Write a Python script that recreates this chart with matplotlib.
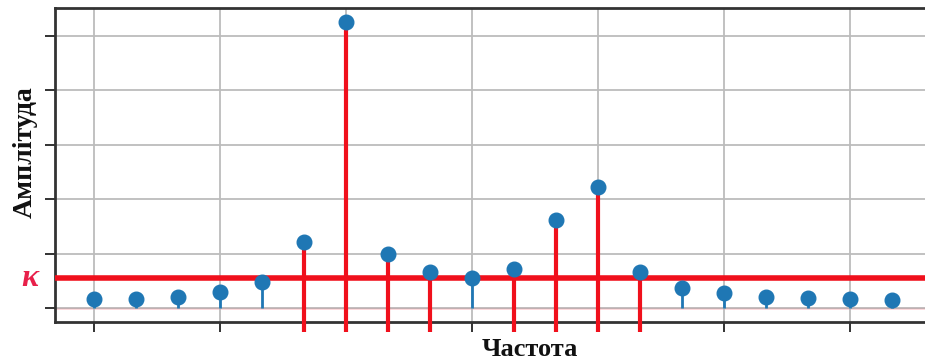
import matplotlib
matplotlib.use("Agg")
import matplotlib.pyplot as plt
import numpy as np

# Spectrum samples (frequency index -> amplitude)
freq = np.arange(20)
amplitude = [0.17, 0.17, 0.20, 0.29, 0.48, 1.21, 5.26, 0.99, 0.66, 0.55,
             0.72, 1.62, 2.23, 0.66, 0.37, 0.28, 0.20, 0.18, 0.17, 0.15]
kappa = 0.56          # detection threshold
red_stem_floor = -0.45  # selected stems are extended below the axis

xticks = [0, 3, 6, 9, 12, 15, 18]
yticks = [0, 1, 2, 3, 4, 5]

fig = plt.figure(figsize=(9.25, 3.62), dpi=100)
ax = fig.add_axes([55 / 925, 40 / 362, 1 - 55 / 925, 314 / 362])

ax.set_xlim(-0.93, 19.79)
ax.set_ylim(-0.257, 5.515)
ax.set_xticks(xticks)
ax.set_yticks(yticks)
ax.set_xticklabels([])
ax.set_yticklabels([])
ax.tick_params(direction="out", length=7, width=1.3, color="#222222")
ax.grid(True, color="#bcbcbc", linewidth=1.3, zorder=0)

for side in ("left", "bottom", "top"):
    ax.spines[side].set_linewidth(2.0)
    ax.spines[side].set_color("#333333")
ax.spines["right"].set_visible(False)

# baseline of the stems
ax.axhline(0, color="#f04050", linewidth=1.0, zorder=1)

amp = np.asarray(amplitude)
above = amp > kappa

# stems below the threshold: thin blue from the baseline
ax.vlines(freq[~above], 0, amp[~above], color="#1f77b4", linewidth=2.0, zorder=2)
# stems above the threshold: thick red, running past the bottom spine
ax.vlines(freq[above], red_stem_floor, amp[above], color="#f0101c",
          linewidth=3.0, zorder=3, clip_on=False)

# threshold line
ax.axhline(kappa, color="#f0101c", linewidth=4.0, zorder=4)

# stem heads
ax.plot(freq, amp, "o", color="#1f77b4", markersize=10.5, zorder=5, clip_on=False)

fig.text(25 / 925, 1 - 152 / 362, "Амплітуда", rotation=90, ha="center", va="center",
         family="Liberation Serif", fontweight="bold", fontsize=20, color="#111111")
fig.text(530 / 925, 1 - 350 / 362, "Частота", ha="center", va="center",
         family="Liberation Serif", fontweight="bold", fontsize=19, color="#111111")
fig.text(30 / 925, 1 - 278 / 362, "κ", ha="center", va="center",
         family="Liberation Serif", fontstyle="italic", fontweight="bold",
         fontsize=23, color="#e8204a")

fig.savefig("out.png", dpi=100)
